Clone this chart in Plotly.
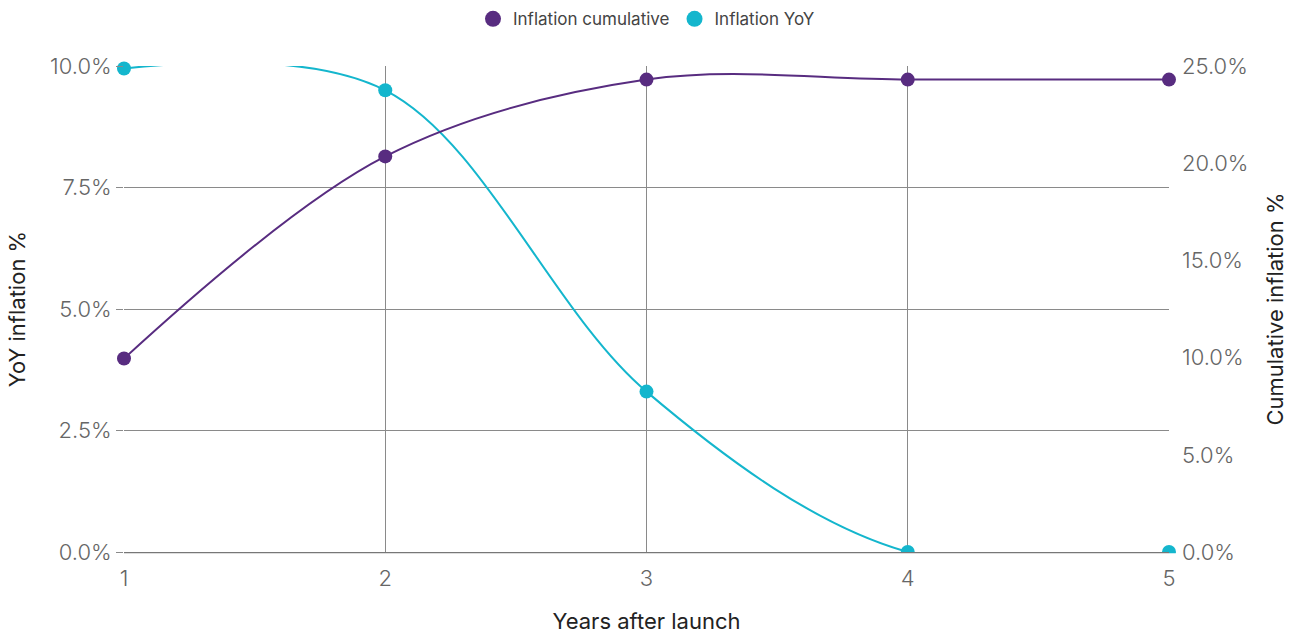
import plotly.graph_objects as go

years = [1, 2, 3, 4, 5]
yoy_inflation = [9.95, 9.5, 3.3, 0.0, 0.0]          # % per year
cumulative_inflation = [9.95, 20.35, 24.3, 24.3, 24.3]  # % since launch

PURPLE = "#582c80"
CYAN = "#14b6cd"
GRID = "#8a8a8a"
FONT = "Inter"
TICK_FONT = dict(size=22, color="#666666", weight=300)
TITLE_FONT = dict(size=22, color="#222222")

fig = go.Figure()

series = [
    ("Inflation cumulative", cumulative_inflation, "y2", PURPLE),
    ("Inflation YoY", yoy_inflation, "y", CYAN),
]

for name, values, axis, color in series:
    # smooth curve
    fig.add_trace(go.Scatter(
        x=years, y=values, mode="lines", yaxis=axis,
        line=dict(color=color, width=2, shape="spline", smoothing=1),
        showlegend=False, hoverinfo="skip"))

for name, values, axis, color in series:
    # data points
    fig.add_trace(go.Scatter(
        x=years, y=values, mode="markers", yaxis=axis, name=name,
        cliponaxis=False, showlegend=False,
        marker=dict(color=color, size=14)))
    # legend swatch (larger dot)
    fig.add_trace(go.Scatter(
        x=[None], y=[None], mode="markers", yaxis=axis, name=name,
        marker=dict(color=color, size=17)))

# white strip under the baseline so markers sitting on zero show as half discs
fig.add_shape(type="rect", xref="paper", yref="paper",
              x0=-0.007, x1=1.007, y0=-0.018, y1=-0.0025,
              fillcolor="white", line=dict(width=0), layer="above")

fig.update_layout(
    width=1299, height=634,
    margin=dict(l=124, r=130, t=66, b=82),
    paper_bgcolor="white", plot_bgcolor="white",
    font=dict(family=FONT, color="#666666"),
    legend=dict(orientation="h", x=0.5, xanchor="center", y=0.998, yanchor="top",
                yref="container", font=dict(size=17, color="#444444"),
                itemsizing="trace", traceorder="normal"),
    xaxis=dict(
        range=[1, 5], dtick=1, tick0=1,
        showgrid=True, gridcolor=GRID, gridwidth=1,
        showline=True, linecolor="#777777", linewidth=1.5,
        zeroline=False, ticks="", ticklabelstandoff=6,
        tickfont=TICK_FONT, automargin=False,
        title=dict(text="Years after launch", font=TITLE_FONT, standoff=34),
    ),
    yaxis=dict(
        range=[0, 10], dtick=2.5, tick0=0,
        tickformat=".1f", ticksuffix="%",
        showgrid=True, gridcolor=GRID, gridwidth=1,
        zeroline=False, showline=False,
        ticks="outside", ticklen=7, tickcolor=GRID,
        tickfont=TICK_FONT, automargin=False,
        title=dict(text="YoY inflation %", font=TITLE_FONT, standoff=18),
    ),
    yaxis2=dict(
        range=[0, 25], dtick=5, tick0=0, overlaying="y", side="right",
        tickformat=".1f", ticksuffix="%",
        showgrid=False, zeroline=False, showline=False, ticks="",
        ticklabelstandoff=12,
        tickfont=TICK_FONT, automargin=False,
        title=dict(text="Cumulative inflation %", font=TITLE_FONT, standoff=20),
    ),
)

fig.write_html("out.html")
